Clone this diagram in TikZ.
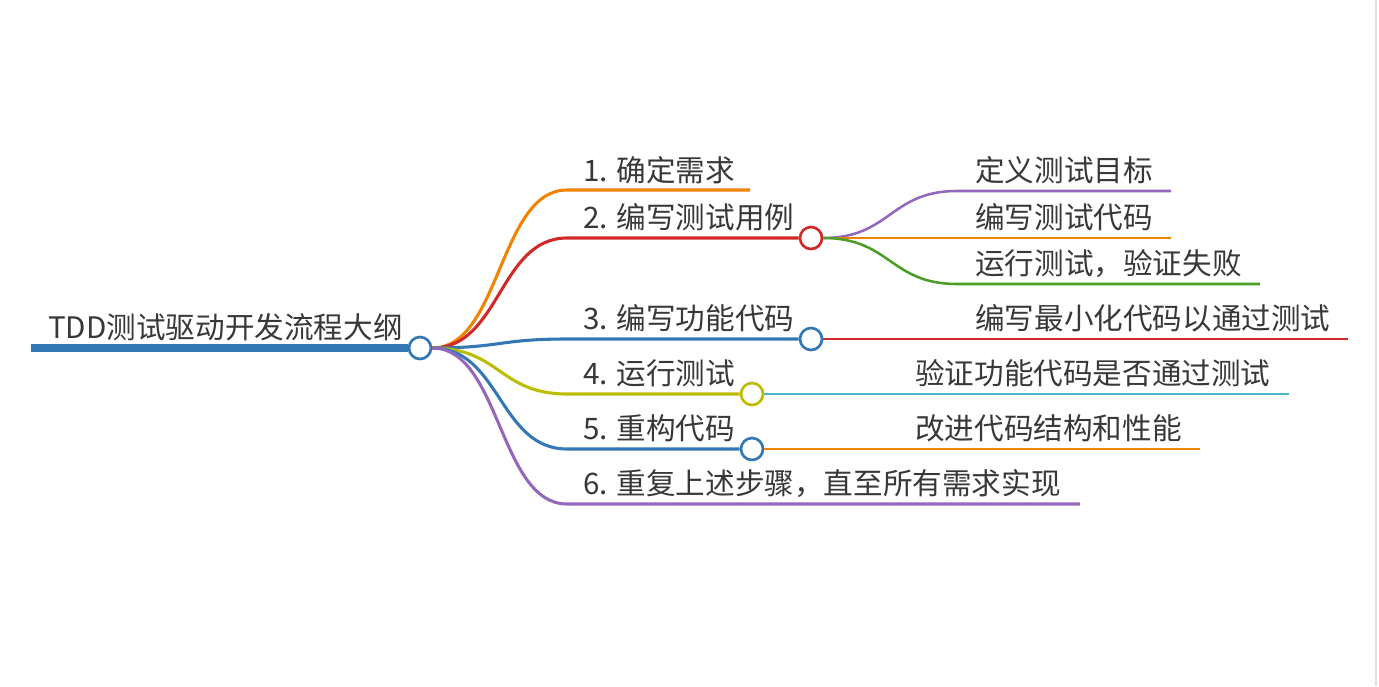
\documentclass[tikz,border=0pt]{standalone}
\usepackage{fontspec}
\setmainfont{Noto Sans CJK SC}
\usetikzlibrary{positioning}
\definecolor{ink}{HTML}{383838}
\definecolor{corange}{HTML}{F28300}
\definecolor{cred}{HTML}{D22828}
\definecolor{cblue}{HTML}{3477B5}
\definecolor{colive}{HTML}{BCBD00}
\definecolor{cpurple}{HTML}{9467BD}
\definecolor{cgreen}{HTML}{4A9E26}
\definecolor{ccyan}{HTML}{4CB8D0}

\begin{document}
\begin{tikzpicture}[
  x=0.75pt, y=-0.75pt,
  font=\fontsize{22.2}{27}\selectfont,
  knot/.style={circle, draw, fill=white, line width=2pt, minimum size=16.5pt, inner sep=0pt},
  stem/.style={line width=2.3pt},
  twig/.style={line width=1.9pt},
  lbl/.style={anchor=base west, inner sep=0pt, text=ink}
]
\useasboundingbox (0,0) rectangle (1379,686);
\coordinate (edgetop) at (1376,0);
\coordinate (edgebot) at (1376,686);
\draw[black!12, line width=0.8pt] (edgetop) -- (edgebot);

\coordinate (rs) at (31,348);
\node[knot, draw=cblue] (hub) at (420,348) {};
\node[knot, draw=cred] (j2) at (811,238) {};
\node[knot, draw=cblue] (j3) at (811,339) {};
\node[knot, draw=colive] (j4) at (752,394) {};
\node[knot, draw=cblue] (j5) at (752,449) {};

\coordinate (b1) at (567,190);  \coordinate (e1) at (750,190);
\coordinate (b2) at (567,238);
\coordinate (b3) at (567,339);
\coordinate (b4) at (567,394);
\coordinate (b5) at (567,449);
\coordinate (b6) at (567,504);  \coordinate (e6) at (1080,504);
\coordinate (b21) at (957,191); \coordinate (e21) at (1171,191);
\coordinate (b22) at (957,238); \coordinate (e22) at (1171,238);
\coordinate (b23) at (957,284); \coordinate (e23) at (1260,284);
\coordinate (e3) at (1348,339);
\coordinate (e4) at (1289,394);
\coordinate (e5) at (1200,449);

\draw[cblue, line width=5.3pt] (rs) -- (hub.west);
\draw[stem, corange] (hub.east) .. controls +(68,0) and +(-68,0) .. (b1) -- (e1);
\draw[stem, cred] (hub.east) .. controls +(68,0) and +(-68,0) .. (b2) -- (j2.west);
\draw[stem, cblue] (hub.east) .. controls +(68,0) and +(-68,0) .. (b3) -- (j3.west);
\draw[stem, colive] (hub.east) .. controls +(68,0) and +(-68,0) .. (b4) -- (j4.west);
\draw[stem, cblue] (hub.east) .. controls +(68,0) and +(-68,0) .. (b5) -- (j5.west);
\draw[stem, cpurple] (hub.east) .. controls +(68,0) and +(-68,0) .. (b6) -- (e6);

\draw[twig, cpurple] (j2.east) .. controls +(67,0) and +(-67,0) .. (b21) -- (e21);
\draw[twig, corange] (j2.east) -- (b22) -- (e22);
\draw[twig, cgreen] (j2.east) .. controls +(67,0) and +(-67,0) .. (b23) -- (e23);
\draw[twig, cred] (j3.east) -- (e3);
\draw[twig, ccyan] (j4.east) -- (e4);
\draw[twig, corange] (j5.east) -- (e5);

\node[lbl] (root) at (48,338.5) {TDD测试驱动开发流程大纲};
\node[lbl] (t1) at (583,181) {1. 确定需求};
\node[lbl] (t2) at (583,228.5) {2. 编写测试用例};
\node[lbl] (t3) at (583,329.5) {3. 编写功能代码};
\node[lbl] (t4) at (583,384.5) {4. 运行测试};
\node[lbl] (t5) at (583,439.5) {5. 重构代码};
\node[lbl] (t6) at (583,494.5) {6. 重复上述步骤，直至所有需求实现};
\node[lbl] (c21) at (975,181) {定义测试目标};
\node[lbl] (c22) at (975,228) {编写测试代码};
\node[lbl] (c23) at (975,274.5) {运行测试，验证失败};
\node[lbl] (c3) at (975,329.5) {编写最小化代码以通过测试};
\node[lbl] (c4) at (915,384.5) {验证功能代码是否通过测试};
\node[lbl] (c5) at (915,439.5) {改进代码结构和性能};
\end{tikzpicture}
\end{document}
